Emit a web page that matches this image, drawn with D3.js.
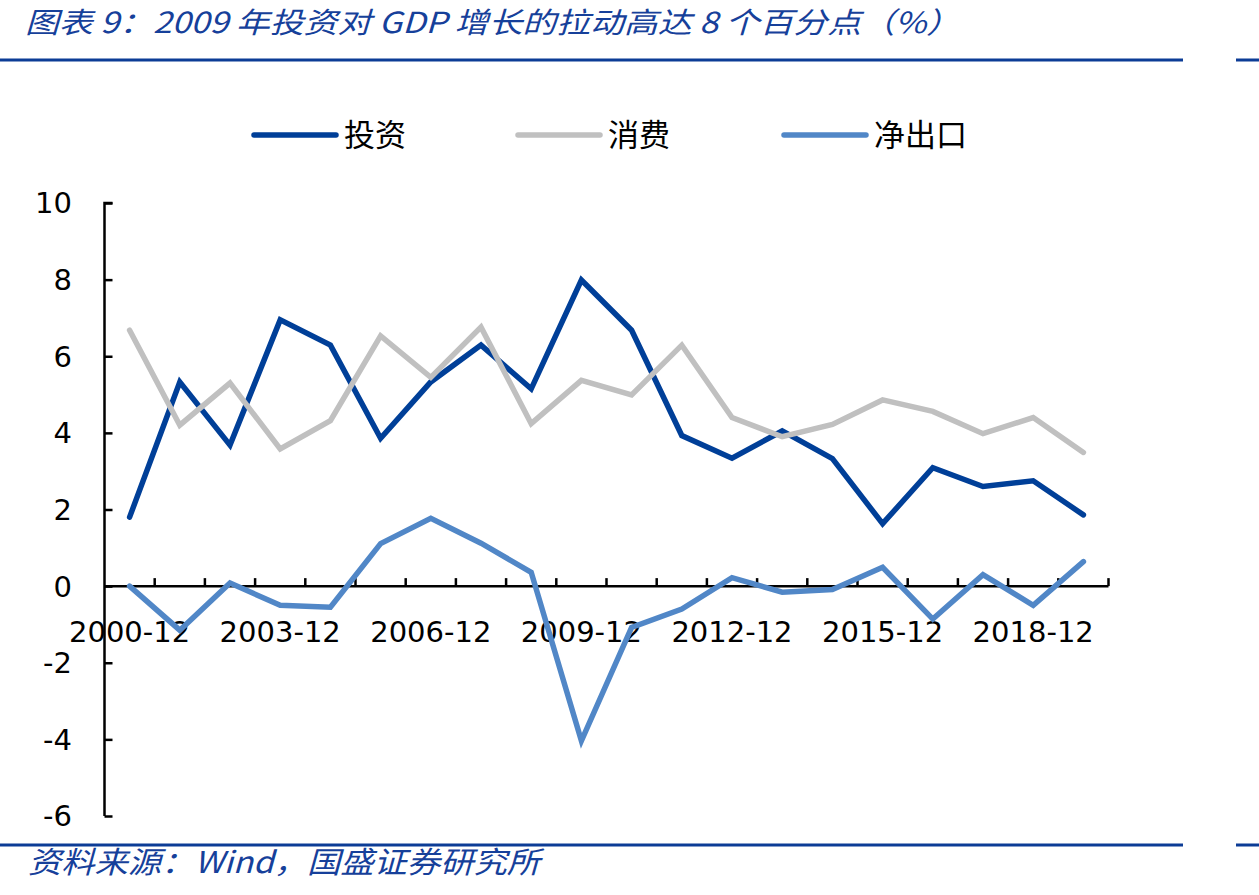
<!DOCTYPE html>
<html><head><meta charset="utf-8">
<script src="https://cdn.jsdelivr.net/npm/d3@7/dist/d3.min.js"></script>
<style>body{margin:0;background:#fff;} svg{display:block;}</style>
</head><body>
<svg id="c" width="1259" height="895"></svg>
<script>
const categories = ["2000-12","2001-12","2002-12","2003-12","2004-12","2005-12","2006-12","2007-12","2008-12","2009-12","2010-12","2011-12","2012-12","2013-12","2014-12","2015-12","2016-12","2017-12","2018-12","2019-12"];
const investment = [1.80,5.33,3.68,6.95,6.29,3.86,5.33,6.29,5.15,7.99,6.68,3.93,3.34,4.05,3.33,1.63,3.09,2.60,2.75,1.86];
const consumption = [6.68,4.20,5.30,3.58,4.32,6.53,5.45,6.76,4.24,5.37,4.99,6.29,4.40,3.90,4.22,4.86,4.56,3.98,4.40,3.49];
const netExports = [0.00,-1.15,0.08,-0.50,-0.55,1.11,1.77,1.12,0.36,-4.04,-1.08,-0.60,0.22,-0.16,-0.09,0.49,-0.86,0.30,-0.50,0.64];
const yTicks = [-6,-4,-2,0,2,4,6,8,10];
const xLabelEvery = 3;
const seriesNames = ["投资","消费","净出口"];
const seriesColors = ["#003f98","#c0c0c0","#5187c7"];

const svg = d3.select("#c");
const x = d3.scaleBand().domain(categories).range([104.5, 1108.5]);
const y = d3.scaleLinear().domain([-6, 10]).range([816, 203]);
const blue = "#0c3c96";

// title
svg.append("text").attr("x", 25).attr("y", 33)
  .attr("font-family", "'Noto Sans CJK SC', sans-serif").attr("font-style","italic")
  .attr("font-size", 29).attr("fill", "#16409a")
  .attr("textLength", 935).attr("lengthAdjust","spacingAndGlyphs")
  .text("图表 9：2009 年投资对 GDP 增长的拉动高达 8 个百分点（%）");
// rules
[[60],[845]].forEach(([yy])=>{
  svg.append("rect").attr("x",0).attr("y",yy-1.5).attr("width",1183).attr("height",3).attr("fill",blue);
  svg.append("rect").attr("x",1236).attr("y",yy-1.5).attr("width",23).attr("height",3).attr("fill",blue);
});
// source
svg.append("text").attr("x", 28).attr("y", 873)
  .attr("font-family", "'Noto Sans CJK SC', sans-serif").attr("font-style","italic")
  .attr("font-size", 30).attr("fill", "#16409a")
  .attr("textLength", 512).attr("lengthAdjust","spacingAndGlyphs")
  .text("资料来源：Wind，国盛证券研究所");

// y axis
const yAxis = svg.append("g").attr("transform", `translate(${x.range()[0]},0)`)
  .call(d3.axisRight(y).tickValues(yTicks).tickSize(8).tickFormat(""));
yAxis.selectAll("path,line").attr("stroke","#000").attr("stroke-width",2.5);
yAxis.select(".domain").attr("d", `M8,${y(10)}H0V${y(-6)}`);
svg.append("g").selectAll("text").data(yTicks).join("text")
  .attr("x", 72).attr("y", d=>y(d)).attr("dy","0.36em").attr("text-anchor","end")
  .attr("font-family","'DejaVu Sans', Verdana, sans-serif").attr("font-size",29).attr("fill","#000")
  .text(d=>d);

// x axis
const boundaries = categories.map((c,i)=>x.range()[0] + x.step()*(i+1));
const xg = svg.append("g");
xg.append("line").attr("x1", x.range()[0]).attr("x2", x.range()[1]).attr("y1", y(0)).attr("y2", y(0))
  .attr("stroke","#000").attr("stroke-width",2.5);
xg.selectAll("line.t").data(boundaries).join("line").attr("class","t")
  .attr("x1",d=>d).attr("x2",d=>d).attr("y1",y(0)).attr("y2",y(0)-8)
  .attr("stroke","#000").attr("stroke-width",2.5);
xg.selectAll("text").data(categories.filter((c,i)=>i%xLabelEvery===0)).join("text")
  .attr("x", d=>x(d)+x.bandwidth()/2).attr("y", 642).attr("text-anchor","middle")
  .attr("font-family","'DejaVu Sans', Verdana, sans-serif").attr("font-size",29).attr("fill","#000")
  .text(d=>d);

// lines
const line = d3.line().x((d,i)=>x(categories[i])+x.bandwidth()/2).y(d=>y(d));
[investment, consumption, netExports].forEach((s,k)=>{
  svg.append("path").datum(s).attr("d", line).attr("fill","none")
    .attr("stroke", seriesColors[k]).attr("stroke-width",5.5)
    .attr("stroke-linejoin","miter").attr("stroke-linecap","round");
});
// rearrange draw order: net exports on top already; investment drawn first
// legend
const legX = [254, 518, 784];
seriesNames.forEach((n,k)=>{
  svg.append("line").attr("x1",legX[k]).attr("x2",legX[k]+82).attr("y1",135).attr("y2",135)
    .attr("stroke",seriesColors[k]).attr("stroke-width",5.5).attr("stroke-linecap","round");
  svg.append("text").attr("x",legX[k]+90).attr("y",135).attr("dy","0.36em")
    .attr("font-family","'Noto Sans CJK SC', sans-serif").attr("font-size",31).attr("fill","#000")
    .text(n);
});
</script>
</body></html>
